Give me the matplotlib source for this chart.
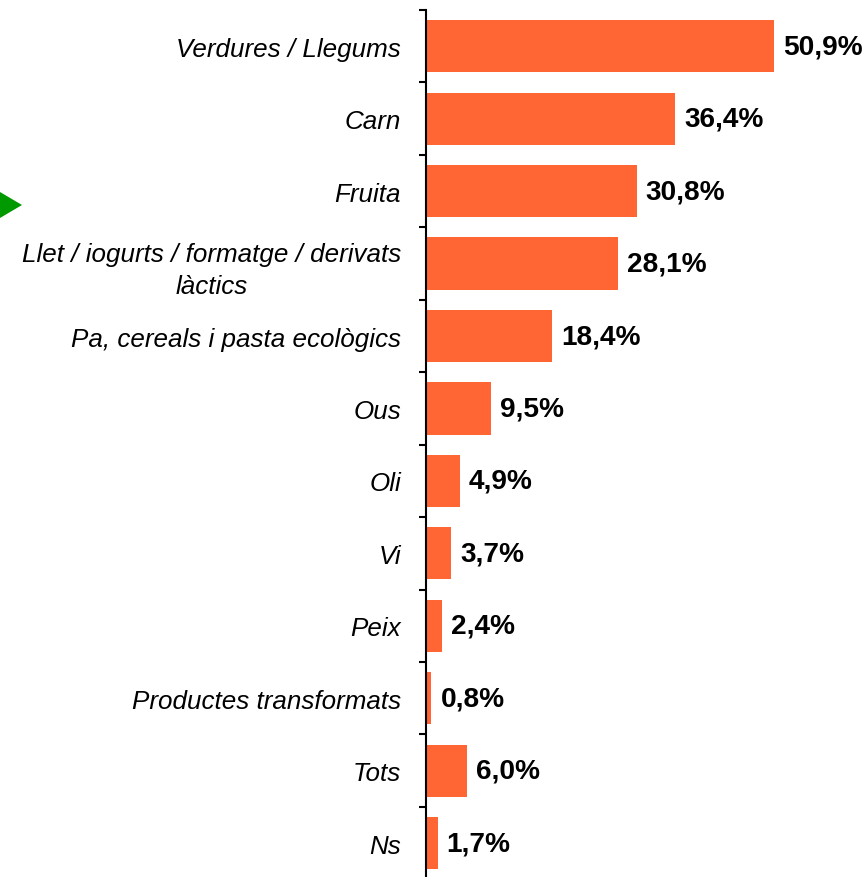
import matplotlib
matplotlib.use("Agg")
import matplotlib.pyplot as plt
import numpy as np
from matplotlib.patches import Polygon

categories = ["Verdures / Llegums", "Carn", "Fruita",
              "Llet / iogurts / formatge / derivats\nlàctics",
              "Pa, cereals i pasta ecològics", "Ous", "Oli", "Vi", "Peix",
              "Productes transformats", "Tots", "Ns"]
values = [50.9, 36.4, 30.8, 28.1, 18.4, 9.5, 4.9, 3.7, 2.4, 0.8, 6.0, 1.7]
value_labels = ["50,9%", "36,4%", "30,8%", "28,1%", "18,4%", "9,5%", "4,9%",
                "3,7%", "2,4%", "0,8%", "6,0%", "1,7%"]

plt.rcParams['font.family'] = ['Liberation Sans', 'DejaVu Sans']

W, H = 866, 878
fig = plt.figure(figsize=(W / 100, H / 100), dpi=100)
ax = fig.add_axes([426 / W, -2.4 / H, (W - 426) / W, (H - 11 + 2.4) / H])

n = len(categories)
y = np.arange(n)
ax.barh(y, values, height=0.72, color="#FF6633", edgecolor="none")
ax.set_ylim(n - 0.5, -0.5)
ax.set_xlim(0, 64.3)

for yi, v, lab in zip(y, values, value_labels):
    ax.annotate(lab, (v, yi), xytext=(6.5, 0), textcoords="offset points",
                ha="left", va="center", fontsize=20.2, fontweight="bold",
                color="black")

ax.set_yticks(y)
ax.set_yticklabels(categories, fontsize=18.7, style="italic",
                   multialignment="center", linespacing=1.4)
ax.tick_params(axis="y", which="major", length=0, pad=18)
ax.set_yticks(np.arange(-0.5, n, 1), minor=True)
ax.tick_params(axis="y", which="minor", length=5, width=1.5, direction="out",
               color="black")

for s in ["top", "right", "bottom"]:
    ax.spines[s].set_visible(False)
ax.spines["left"].set_linewidth(1.5)
ax.spines["left"].set_color("black")
ax.set_xticks([])

tri = Polygon([[0 / W, 1 - 193 / H], [22 / W, 1 - 206 / H], [0 / W, 1 - 219 / H]],
              closed=True, transform=fig.transFigure, facecolor="#009900",
              edgecolor="none")
fig.patches.append(tri)

fig.savefig("out.png", dpi=100)
